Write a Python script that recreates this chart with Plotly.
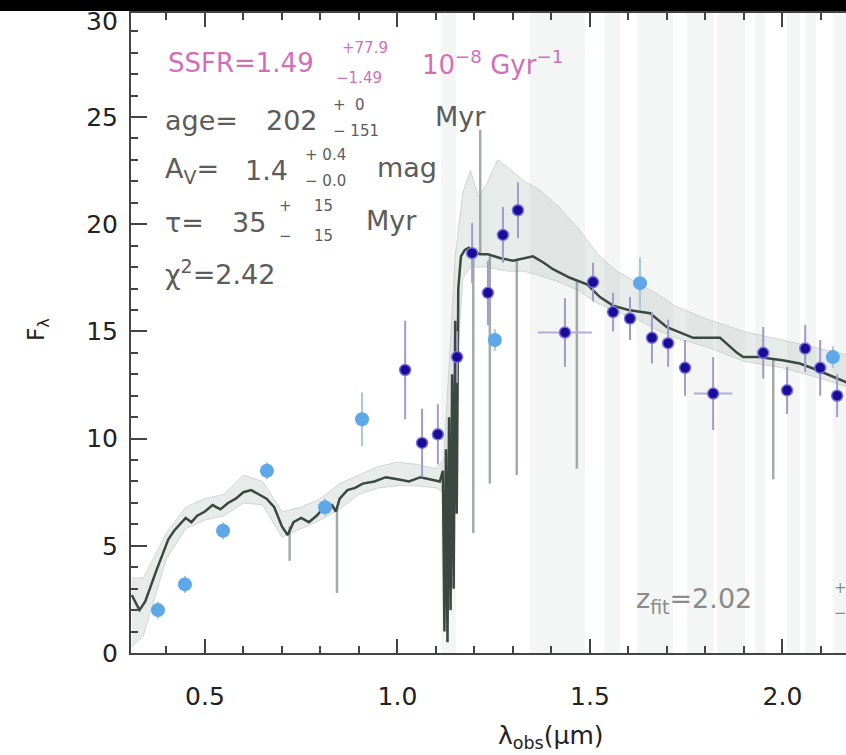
import plotly.graph_objects as go

FONT = "DejaVu Sans"

# ---------------- data ----------------
# photometry (light blue)
phot_wave = [0.378, 0.448, 0.547, 0.661, 0.812, 0.908, 1.253, 1.630, 2.131]
phot_flux = [2.0, 3.2, 5.7, 8.5, 6.8, 10.9, 14.6, 17.25, 13.8]
phot_err = [0.4, 0.4, 0.4, 0.4, 0.4, 1.25, 0.5, 1.2, 0.5]

# spectroscopic points (dark blue)
spec_wave = [1.020, 1.064, 1.105, 1.155, 1.194, 1.235, 1.274, 1.313, 1.435, 1.508,
             1.560, 1.604, 1.661, 1.703, 1.747, 1.820, 1.950, 2.012, 2.059, 2.098, 2.142]
spec_flux = [13.2, 9.8, 10.2, 13.8, 18.65, 16.8, 19.5, 20.65, 14.95, 17.3,
             15.9, 15.6, 14.7, 14.45, 13.3, 12.1, 14.0, 12.25, 14.2, 13.3, 12.0]
spec_err = [2.3, 1.6, 1.4, 1.2, 1.4, 1.5, 1.3, 1.3, 1.6, 0.9,
            0.9, 1.0, 1.2, 1.1, 1.3, 1.7, 1.2, 1.1, 1.1, 1.3, 1.0]
spec_xerr = [0, 0, 0, 0, 0, 0, 0, 0, 0.07, 0,
             0, 0, 0, 0, 0, 0.05, 0, 0, 0, 0, 0]

# best-fit model (dark grey line)
model_wave = [0.310, 0.330, 0.345, 0.360, 0.375, 0.390, 0.405, 0.420, 0.435, 0.450,
              0.465, 0.480, 0.500, 0.520, 0.540, 0.560, 0.580, 0.600, 0.620, 0.640,
              0.660, 0.680, 0.700, 0.715, 0.730, 0.750, 0.770, 0.790, 0.810, 0.830,
              0.840, 0.850, 0.870, 0.890, 0.910, 0.940, 0.970, 1.000, 1.030, 1.060,
              1.090, 1.110, 1.118, 1.122, 1.126, 1.130, 1.134, 1.138, 1.142, 1.146,
              1.150, 1.154, 1.158, 1.165, 1.175, 1.185, 1.195, 1.215, 1.235, 1.270,
              1.300, 1.352, 1.380, 1.404, 1.448, 1.492, 1.526, 1.560, 1.600, 1.656,
              1.700, 1.768, 1.838, 1.882, 1.898, 1.942, 2.000, 2.045, 2.090, 2.131, 2.170]
model_flux = [2.7, 2.0, 2.4, 3.2, 3.9, 4.6, 5.3, 5.7, 6.0, 6.3,
              6.1, 6.4, 6.6, 6.9, 6.7, 7.0, 7.2, 7.5, 7.6, 7.4,
              7.2, 6.8, 5.9, 5.5, 6.1, 6.3, 6.1, 6.4, 6.8, 6.9,
              6.6, 7.2, 7.6, 7.7, 7.9, 8.0, 8.2, 8.1, 8.0, 8.2,
              8.1, 8.0, 8.5, 1.0, 9.5, 0.5, 11.0, 2.0, 13.0, 3.0,
              15.5, 6.5, 17.0, 18.5, 18.8, 18.9, 18.7, 18.6, 18.6, 18.4,
              18.3, 18.5, 18.2, 17.9, 17.5, 17.2, 16.6, 16.2, 16.0, 15.85,
              15.2, 14.7, 14.7, 14.0, 13.8, 13.8, 13.65, 13.5, 13.2, 12.9, 12.6]

# model range (light grey envelope)
env_wave = [0.31, 0.34, 0.40, 0.45, 0.50, 0.55, 0.60, 0.65, 0.70, 0.75,
            0.80, 0.85, 0.90, 0.95, 1.00, 1.05, 1.10, 1.12, 1.15, 1.17,
            1.19, 1.21, 1.23, 1.26, 1.29, 1.33, 1.37, 1.42, 1.47, 1.52,
            1.57, 1.62, 1.67, 1.72, 1.80, 1.90, 2.00, 2.10, 2.17]
env_lo = [0.3, 0.8, 4.4, 5.8, 6.2, 6.4, 7.0, 6.9, 5.4, 5.8,
          6.2, 6.7, 7.4, 7.7, 7.8, 7.8, 7.7, 7.5, 12.0, 17.5,
          18.0, 18.0, 18.0, 17.9, 17.8, 17.8, 17.6, 17.3, 16.9, 16.3,
          15.9, 15.6, 15.1, 14.7, 14.3, 13.6, 13.3, 12.8, 12.4]
env_hi = [3.5, 3.5, 5.6, 6.8, 7.2, 7.4, 8.3, 8.0, 6.6, 6.8,
          7.2, 7.9, 8.3, 8.7, 8.9, 8.8, 8.6, 9.0, 18.5, 21.5,
          22.5, 21.3, 21.8, 23.0, 22.6, 22.0, 21.6, 20.8, 19.8, 18.6,
          17.8, 17.3, 16.8, 16.2, 15.6, 15.0, 14.6, 14.2, 13.9]

# absorption features of the models (grey vertical strokes)
line_wave = [0.720, 0.843, 1.197, 1.215, 1.240, 1.310, 1.466, 1.976]
line_top = [5.9, 6.8, 18.7, 24.4, 18.5, 18.3, 17.4, 13.7]
line_bot = [4.3, 2.8, 5.6, 18.6, 7.9, 8.3, 8.6, 8.1]

# masked wavelength windows (light vertical bands)
band_lo = [1.113, 1.344, 1.537, 1.622, 1.752, 1.830, 1.929, 2.012, 2.059, 2.131]
band_hi = [1.152, 1.487, 1.578, 1.716, 1.820, 1.903, 1.955, 2.046, 2.087, 2.180]

x_ticks = [0.5, 1.0, 1.5, 2.0]
y_ticks = [0, 5, 10, 15, 20, 25]

# ---------------- figure ----------------
fig = go.Figure()

# envelope
fig.add_trace(go.Scatter(x=env_wave, y=env_hi, mode="lines",
                         line=dict(color="rgba(185,195,190,0.6)", width=1),
                         showlegend=False, hoverinfo="skip"))
fig.add_trace(go.Scatter(x=env_wave, y=env_lo, mode="lines", fill="tonexty",
                         fillcolor="rgba(195,205,200,0.4)",
                         line=dict(color="rgba(185,195,190,0.6)", width=1),
                         showlegend=False, hoverinfo="skip"))

# absorption strokes
lx, ly = [], []
for w, t, b in zip(line_wave, line_top, line_bot):
    lx += [w, w, None]
    ly += [t, b, None]
fig.add_trace(go.Scatter(x=lx, y=ly, mode="lines",
                         line=dict(color="rgba(140,150,146,0.8)", width=2.5),
                         showlegend=False, hoverinfo="skip"))

# best-fit model
fig.add_trace(go.Scatter(x=model_wave, y=model_flux, mode="lines",
                         line=dict(color="#3b4741", width=2.5),
                         showlegend=False))

# photometry
fig.add_trace(go.Scatter(x=phot_wave, y=phot_flux, mode="markers",
                         marker=dict(color="#5ea8e8", size=14, line=dict(width=0)),
                         error_y=dict(type="data", array=phot_err, color="#a9c6da",
                                      thickness=2, width=0),
                         showlegend=False))

# spectroscopy
fig.add_trace(go.Scatter(x=spec_wave, y=spec_flux, mode="markers",
                         marker=dict(color="#180c98", size=11,
                                     line=dict(color="#7d72dc", width=1.5)),
                         error_y=dict(type="data", array=spec_err, color="#a29ac8",
                                      thickness=2, width=0),
                         error_x=dict(type="data", array=spec_xerr, color="#b3acd6",
                                      thickness=2, width=0),
                         showlegend=False))

# bands
shapes = []
for a, b in zip(band_lo, band_hi):
    shapes.append(dict(type="rect", xref="x", yref="paper", x0=a, x1=b, y0=0, y1=1,
                       fillcolor="rgba(214,222,218,0.28)", line=dict(width=0),
                       layer="below"))
# black strip at the top of the picture
shapes.append(dict(type="rect", xref="paper", yref="paper",
                   x0=-0.2, x1=1.05, y0=(653 - 11) / 640, y1=(653 + 10) / 640,
                   fillcolor="black", line=dict(width=0), layer="above"))


def px(X):
    return (X - 131) / 715


def py(Y):
    return (653 - Y) / 640


PINK = "#d26fb9"
GREY = "#5c5c5c"
ZGREY = "#8a8a8a"


def ann(text, X, Y, size, color, **kw):
    d = dict(text=text, x=px(X), y=py(Y), xref="paper", yref="paper",
             xanchor="left", yanchor="middle", showarrow=False,
             font=dict(family=FONT, size=size, color=color))
    d.update(kw)
    return d


annotations = [
    ann("SSFR=1.49", 166, 63, 26, PINK),
    ann("+77.9", 340, 48, 15, PINK),
    ann("−1.49", 334, 78, 15, PINK),
    ann("10<sup>−8</sup> Gyr<sup>−1</sup>", 420, 63, 26, PINK),

    ann("age=", 163, 121, 27, GREY),
    ann("202", 264, 121, 27, GREY),
    ann("+  0", 331, 105, 15, GREY),
    ann("− 151", 331, 131, 15, GREY),
    ann("Myr", 433, 117, 27, GREY),

    ann("A<sub>V</sub>=", 163, 170, 27, GREY),
    ann("1.4", 243, 170, 27, GREY),
    ann("+ 0.4", 303, 155, 15, GREY),
    ann("− 0.0", 303, 181, 15, GREY),
    ann("mag", 375, 167, 27, GREY),

    ann("τ=", 163, 222, 27, GREY),
    ann("35", 230, 222, 27, GREY),
    ann("+", 277, 206, 15, GREY),
    ann("−", 277, 236, 15, GREY),
    ann("15", 312, 206, 15, GREY),
    ann("15", 312, 236, 15, GREY),
    ann("Myr", 364, 220, 27, GREY),

    ann("χ<sup>2</sup>=2.42", 163, 272, 27, GREY),

    ann("z<sub>fit</sub>=2.02", 634, 600, 27, ZGREY),
    ann("+", 832, 588, 15, ZGREY),
    ann("−", 832, 613, 15, ZGREY),

    # top y tick label, partly hidden under the black strip
    ann("30", 120, 22, 25, "#222", xanchor="right"),

    # axis titles
    ann("λ<sub>obs</sub>(μm)", 551, 737, 25, "#222", xanchor="center"),
    ann("F<sub>λ</sub>", 38, 330, 23, "#222", xanchor="center", textangle=-90),
]

AX = "#444"
fig.update_layout(
    width=846, height=755,
    margin=dict(l=131, r=0, t=13, b=102),
    paper_bgcolor="white", plot_bgcolor="white",
    showlegend=False,
    shapes=shapes,
    annotations=annotations,
    xaxis=dict(range=[0.308, 2.165], showgrid=False, zeroline=False,
               showline=True, linecolor=AX, linewidth=2, mirror="ticks",
               ticks="inside", ticklen=14, tickwidth=2, tickcolor=AX,
               tickvals=x_ticks, ticktext=[f"{v:.1f}" for v in x_ticks],
               tickfont=dict(family=FONT, size=25, color="#222"),
               ticklabelstandoff=20,
               minor=dict(dtick=0.1, tick0=0, ticks="inside", ticklen=7,
                          tickwidth=2, tickcolor=AX, showgrid=False)),
    yaxis=dict(range=[0, 29.85], showgrid=False, zeroline=False,
               showline=True, linecolor=AX, linewidth=2, mirror=False,
               ticks="inside", ticklen=16, tickwidth=2, tickcolor=AX,
               tickvals=y_ticks, ticktext=[str(v) for v in y_ticks],
               tickfont=dict(family=FONT, size=25, color="#222"),
               ticklabelstandoff=6,
               minor=dict(dtick=1, tick0=0, ticks="inside", ticklen=7,
                          tickwidth=2, tickcolor=AX, showgrid=False)),
)

fig.write_html("out.html")
